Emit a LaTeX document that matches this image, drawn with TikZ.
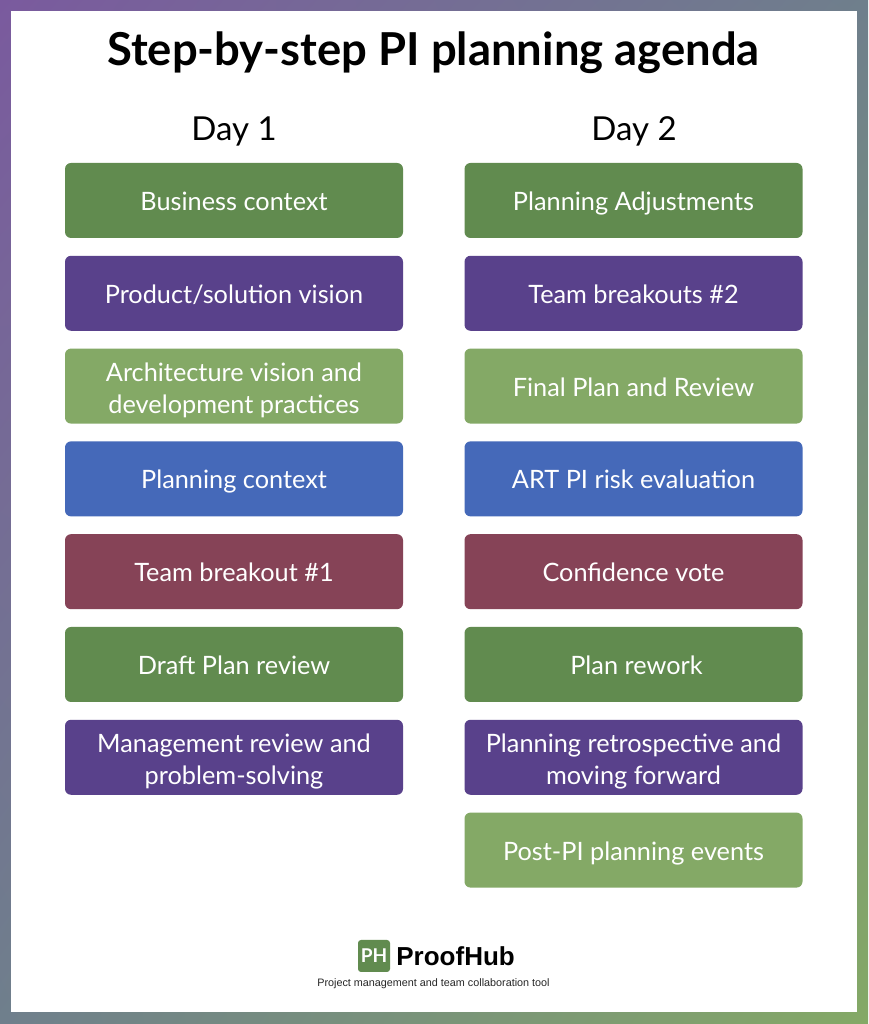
\documentclass[tikz,border=0pt]{standalone}
\usepackage{fontspec}
\setmainfont{Lato}
\newfontfamily\tagfont{Liberation Sans}
\usetikzlibrary{positioning,shadings}
\definecolor{agendagreen}{HTML}{618B4F}
\definecolor{agendapurple}{HTML}{59418B}
\definecolor{agendalime}{HTML}{84A966}
\definecolor{agendablue}{HTML}{4569B9}
\definecolor{agendamaroon}{HTML}{864357}
\definecolor{framepurple}{HTML}{7A5A9E}
\definecolor{framegrey}{HTML}{6F7F8C}
\newcommand{\itemstrut}{\rule[-6pt]{0pt}{32pt}}
\newcommand{\itemtop}{\rule{0pt}{28pt}}
\tikzset{
  itembox/.style={rectangle,rounded corners=6pt,minimum width=338pt,minimum height=75pt,
    inner sep=0pt,outer sep=0pt,text=white,align=center,font=\fontsize{25.3}{32}\selectfont,
    execute at begin node=\itemstrut},
  dayhead/.style={font=\fontsize{33}{40}\selectfont,text=black},
}
\begin{document}
\begin{tikzpicture}[x=1pt,y=1pt,node distance=17.8pt]
  \useasboundingbox (0,0) rectangle (868,1024);
  \shade [upper left=framepurple,upper right=framegrey,lower left=framegrey,lower right=agendalime] (0,0) rectangle (868,1024);
  \fill [white] (11,12) rectangle (857,1013);
  \node (title) [font=\fontsize{45.4}{50}\selectfont\bfseries] at (433.5,971) {Step-by-step PI planning agenda};
  \node (dayA) [dayhead] at (234,893) {Day 1};
  \node (dayB) [dayhead] at (634,893) {Day 2};
  % day 1
  \node (a1) [itembox,fill=agendagreen,anchor=north] at (234,861) {Business context};
  \node (a2) [itembox,fill=agendapurple,below=of a1] {Product/solution vision};
  \node (a3) [itembox,fill=agendalime,below=of a2] {\itemtop Architecture vision and\\development practices\itemstrut};
  \node (a4) [itembox,fill=agendablue,below=of a3] {Planning context};
  \node (a5) [itembox,fill=agendamaroon,below=of a4] {Team breakout \#1};
  \node (a6) [itembox,fill=agendagreen,below=of a5] {Draft Plan review};
  \node (a7) [itembox,fill=agendapurple,below=of a6] {\itemtop Management review and\\problem-solving\itemstrut};
  % day 2
  \node (b1) [itembox,fill=agendagreen,anchor=north] at (633.5,861) {Planning Adjustments};
  \node (b2) [itembox,fill=agendapurple,below=of b1] {Team breakouts \#2};
  \node (b3) [itembox,fill=agendalime,below=of b2] {Final Plan and Review};
  \node (b4) [itembox,fill=agendablue,below=of b3] {ART PI risk evaluation};
  \node (b5) [itembox,fill=agendamaroon,below=of b4] {Confidence vote};
  \node (b6) [itembox,fill=agendagreen,below=of b5] {\hspace*{6pt}Plan rework};
  \node (b7) [itembox,fill=agendapurple,below=of b6] {\itemtop Planning retrospective and\\moving forward\itemstrut};
  \node (b8) [itembox,fill=agendalime,below=of b7] {Post-PI planning events};
  % logo
  \node (logo) [rectangle,rounded corners=3pt,fill=agendagreen,minimum size=32pt,inner sep=0pt,text=white,font=\fontsize{19}{24}\selectfont\bfseries] at (374,68) {PH};
  \node (brand) [right=6pt of logo,inner sep=0pt,font=\tagfont\fontsize{26}{30}\selectfont\bfseries] {ProofHub};
  \node (tag) [font=\tagfont\fontsize{10.8}{13}\selectfont,text=black!85] at (433.5,40) {Project management and team collaboration tool};
\end{tikzpicture}
\end{document}
